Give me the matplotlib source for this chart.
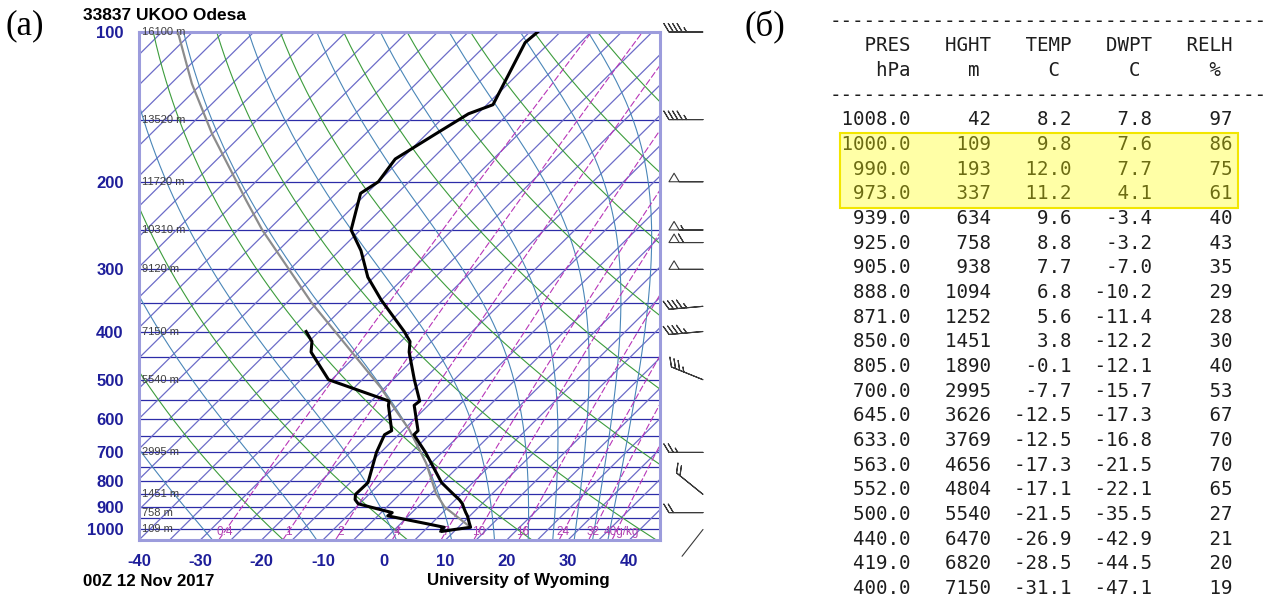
import numpy as np
import matplotlib.pyplot as plt
from matplotlib.patches import Rectangle
from matplotlib.ticker import NullLocator

# sounding 33837 UKOO Odesa, 00Z 12 Nov 2017 (table values)
pres = [1008.0, 1000.0, 990.0, 973.0, 939.0, 925.0, 905.0, 888.0, 871.0, 850.0,
        805.0, 700.0, 645.0, 633.0, 563.0, 552.0, 500.0, 440.0, 419.0, 400.0]
hght = [42, 109, 193, 337, 634, 758, 938, 1094, 1252, 1451,
        1890, 2995, 3626, 3769, 4656, 4804, 5540, 6470, 6820, 7150]
temp = [8.2, 9.8, 12.0, 11.2, 9.6, 8.8, 7.7, 6.8, 5.6, 3.8,
        -0.1, -7.7, -12.5, -12.5, -17.3, -17.1, -21.5, -26.9, -28.5, -31.1]
dwpt = [7.8, 7.6, 7.7, 4.1, -3.4, -3.2, -7.0, -10.2, -11.4, -12.2,
        -12.1, -15.7, -17.3, -16.8, -21.5, -22.1, -35.5, -42.9, -44.5, -47.1]
relh = [97, 86, 75, 61, 40, 43, 35, 29, 28, 30, 40, 53, 67, 70, 70, 65, 27, 21, 20, 19]
highlight = [1000.0, 990.0, 973.0]

# temperature above 400 hPa
pres_top = [346, 311, 275, 250, 211, 200, 180, 160, 146, 140, 105, 100]
temp_top = [-40.0, -46.0, -51.5, -56.5, -61.0, -60.0, -61.0, -58.5, -56.5, -54.0, -59.0, -58.7]

# lifted parcel (grey curve)
pres_parcel = [990, 901, 845, 736, 631, 576, 520, 351, 250, 218, 160, 127, 100]
temp_parcel = [12.0, 4.4, 0.7, -5.8, -14.0, -19.5, -25.5, -50.8, -71.0, -78.5, -95.1, -106.6, -117.4]

# wind barbs on the right
wind_pres = [100, 150, 200, 250, 265, 300, 356, 400, 500, 700, 850, 925, 1000]
wind_dir = [270, 270, 270, 270, 270, 270, 265, 265, 292, 270, 309, 270, 218]
wind_kt = [45, 45, 50, 55, 60, 50, 45, 45, 35, 25, 20, 20, 3]

# heights written on the standard levels
std_pres = [100, 150, 200, 250, 300, 400, 500, 700, 850, 925, 1000]
std_hght = [16100, 13520, 11720, 10310, 9120, 7150, 5540, 2995, 1451, 758, 109]

# background lines
isobars = list(range(100, 1051, 50))
isotherms = list(range(-125, 46, 5))
dry_theta = [-20, 0, 20, 40, 60, 80, 100, 120, 140, 160, 180]
moist_start = [-28, -11, 2, 11, 18, 23.5, 27.5, 31, 34, 36.5]
mixr_vals = [0.4, 1, 2, 4, 7, 10, 16, 24, 32, 40]
mixr_labels = ['0.4', '1', '2', '4', '7', '10', '16', '24', '32', '40g/kg']

P0 = 1050.0
SKEW = 82.0
BLUE = '#1e1e9a'
W, H = 1275, 601


def skew_x(t, p):
    return np.asarray(t, float) + SKEW * np.log10(P0 / np.asarray(p, float))


def moist_adiabat(t0, plev):
    Rd, cp, L, eps = 287.0, 1005.0, 2.5e6, 0.622
    t = t0 + 273.15
    out = [t]
    for p1, p2 in zip(plev[:-1], plev[1:]):
        tc = t - 273.15
        es = 6.112 * np.exp(17.67 * tc / (tc + 243.5))
        rs = eps * es / (p1 - es)
        dtdp = (Rd * t + L * rs) / (cp + L * L * rs * eps / (Rd * t * t)) / p1
        t = t + dtdp * (p2 - p1)
        out.append(t)
    return np.array(out) - 273.15


def dewpoint_of_mixr(w, p):
    e = w / 1000.0 * p / (0.622 + w / 1000.0)
    a = np.log(e / 6.112)
    return 243.5 * a / (17.67 - a)


plt.rcParams['font.family'] = ['Liberation Sans', 'DejaVu Sans']
fig = plt.figure(figsize=(W / 100, H / 100), dpi=100)

ax = fig.add_axes([139 / W, 61 / H, 521 / W, 508 / H])
ax.set_yscale('log')
ax.set_ylim(1050, 100)
ax.set_xlim(-40, 45)

plev = np.linspace(1050, 100, 300)

for p in isobars:
    ax.axhline(p, color='#2c2ca8', lw=0.9, zorder=1)
for t in isotherms:
    ax.plot(skew_x([t, t], [1050, 100]), [1050, 100], color='#6c6cc8', lw=0.9, zorder=1)
for th in dry_theta:
    tt = (th + 273.15) * (plev / 1000.0) ** 0.286 - 273.15
    ax.plot(skew_x(tt, plev), plev, color='#3c9c3c', lw=0.8, zorder=1)
for t0 in moist_start:
    tt = moist_adiabat(t0, plev)
    ax.plot(skew_x(tt, plev), plev, color='#4a86b8', lw=0.8, zorder=1)
for w, lab in zip(mixr_vals, mixr_labels):
    td = dewpoint_of_mixr(w, plev)
    ax.plot(skew_x(td, plev), plev, color='#b836b8', lw=0.8, ls=(0, (6, 2)), zorder=1)
    xl = skew_x(dewpoint_of_mixr(w, 1012), 1012)
    if lab.endswith('g/kg'):
        ax.text(xl - 2.0, 1012, lab, color='#b040b0', fontsize=8.5, ha='left', va='center', zorder=2)
    else:
        ax.text(xl, 1012, lab, color='#b040b0', fontsize=8.5, ha='center', va='center', zorder=2)

for p, h in zip(std_pres, std_hght):
    ax.text(0.006, p, f'{h} m', transform=ax.get_yaxis_transform(), fontsize=8,
            color='#404040', ha='left', va='center', zorder=3)

# sounding
p_all = pres + pres_top
t_all = temp + temp_top
ax.plot(skew_x(temp_parcel, pres_parcel), pres_parcel, color='#8c8c8c', lw=1.6, zorder=4)
ax.plot(skew_x(t_all, p_all), p_all, color='black', lw=2.2, zorder=5)
ax.plot(skew_x(dwpt, pres), pres, color='black', lw=2.2, zorder=5)

ax.yaxis.set_minor_locator(NullLocator())
ax.set_yticks([100, 200, 300, 400, 500, 600, 700, 800, 900, 1000])
ax.set_yticklabels(['100', '200', '300', '400', '500', '600', '700', '800', '900', '1000'],
                   fontweight='bold')
ax.set_xticks([-40, -30, -20, -10, 0, 10, 20, 30, 40])
ax.set_xticklabels(['-40', '-30', '-20', '-10', '0', '10', '20', '30', '40'], fontweight='bold')
ax.tick_params(length=0, labelsize=12, labelcolor=BLUE)
ax.tick_params(axis='y', pad=11)
ax.tick_params(axis='x', pad=10)
for s in ax.spines.values():
    s.set_color('#9c9cdc')
    s.set_linewidth(2.2)

# wind barbs
bax = fig.add_axes([660 / W, 61 / H, 60 / W, 508 / H])
bax.set_yscale('log')
bax.set_ylim(1050, 100)
bax.set_xlim(0, 1)
bax.axis('off')
BARB_LEN = 7
wd = np.radians(wind_dir)
wk = np.array(wind_kt, float)
u = -wk * np.sin(wd)
v = -wk * np.cos(wd)
xs = 43 / 60.0
strong = wk >= 5
bax.barbs(np.full(strong.sum(), xs), np.array(wind_pres)[strong], u[strong], v[strong],
          length=BARB_LEN, barbcolor='#3a3a3a', flagcolor='none', linewidth=0.8,
          sizes=dict(spacing=0.13, height=0.25, width=0.3), clip_on=False)
staff = BARB_LEN ** 2 / 2
for p, d, s in zip(wind_pres, wd, wk):
    if s < 5:
        bax.annotate('', xy=(xs, p), xytext=(staff * np.sin(d), staff * np.cos(d)),
                     textcoords='offset points', annotation_clip=False,
                     arrowprops=dict(arrowstyle='-', color='#3a3a3a', lw=0.8,
                                     shrinkA=0, shrinkB=0))

# titles
fig.text(83 / W, 1 - 15 / H, '33837 UKOO Odesa', fontsize=12.5, fontweight='bold', va='center')
fig.text(83 / W, 1 - 581 / H, '00Z 12 Nov 2017', fontsize=12.2, fontweight='bold', va='center')
fig.text(518 / W, 1 - 580 / H, 'University of Wyoming', fontsize=12.2, fontweight='bold',
         va='center', ha='center')
fig.text(6 / W, 1 - 26 / H, '(a)', fontsize=25, family='Liberation Serif', va='center')
fig.text(744 / W, 1 - 26 / H, '(б)', fontsize=25, family='Liberation Serif', va='center')

# table
CW = 11.5
X0 = 830
Y0 = 21
DY = 24.68
lines = ['-' * 38,
         '   PRES   HGHT   TEMP   DWPT   RELH',
         '    hPa     m      C      C      %',
         '-' * 38]
for p, h, t, td, rh in zip(pres, hght, temp, dwpt, relh):
    lines.append(f'{p:7.1f}{h:7d}{t:7.1f}{td:7.1f}{rh:7d}')
for i, s in enumerate(lines):
    fig.text(X0 / W, 1 - (Y0 + DY * i) / H, s, fontsize=CW / 0.602 * 0.72,
             family='DejaVu Sans Mono', color='#1e1e1e', va='center', ha='left')

rows = [pres.index(p) for p in highlight]
y_top = Y0 + DY * (4 + min(rows)) - 11
y_bot = Y0 + DY * (4 + max(rows)) + 14
fig.add_artist(Rectangle((840 / W, 1 - y_bot / H), 398 / W, (y_bot - y_top) / H,
                         transform=fig.transFigure, facecolor=(1, 1, 0, 0.35),
                         edgecolor='#f2e600', lw=1.5, zorder=6))

fig.savefig('out.png', dpi=100)
